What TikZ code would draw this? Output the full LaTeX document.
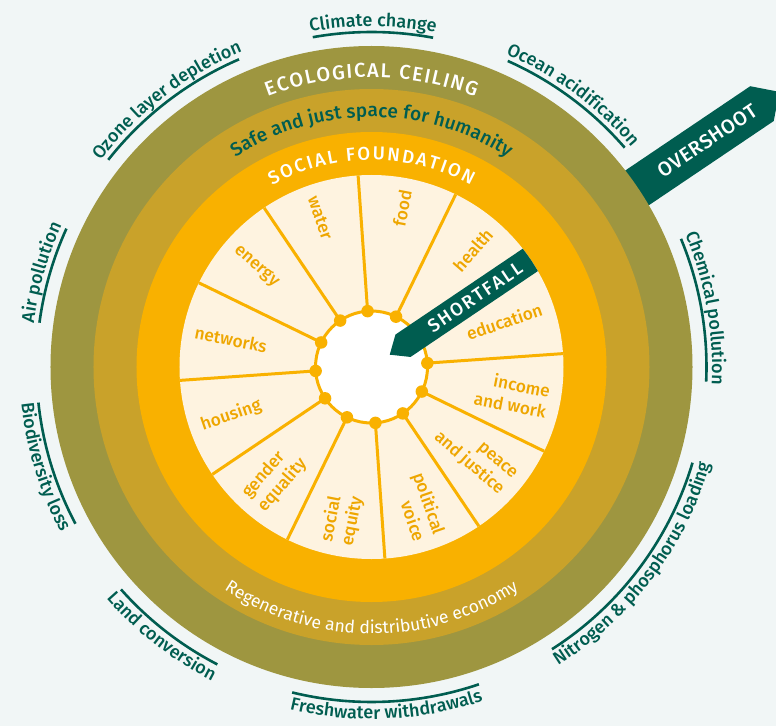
\documentclass[tikz,border=0pt]{standalone}
\usepackage{fontspec}
\setmainfont{Fira Sans}
\newfontfamily\fmed{Fira Sans Medium}
\usetikzlibrary{decorations.text}
\definecolor{bg}{HTML}{F1F6F6}
\definecolor{olive}{HTML}{9E9640}
\definecolor{mustard}{HTML}{C9A22A}
\definecolor{orng}{HTML}{F9B100}
\definecolor{cream}{HTML}{FEF3E0}
\definecolor{dgreen}{HTML}{005D50}
\definecolor{lbl}{HTML}{EEA600}
\newcommand\dnCapsA{\fmed\fontsize{18.5}{18.5}\selectfont}
\newcommand\dnCapsB{\fmed\fontsize{20}{20}\selectfont}
\newcommand\dnOut{\fmed\fontsize{18}{18}\selectfont}
\newcommand\dnSafe{\fmed\fontsize{19}{19}\selectfont}
\newcommand\dnReg{\fontsize{17.5}{17.5}\selectfont}
\begin{document}
\begin{tikzpicture}[x=1pt,y=1pt,
  wl/.style={font=\fmed\fontsize{17.3}{21}\selectfont, text=lbl, inner sep=0pt},
  wlL/.style={wl, anchor=west, align=left},
  wlR/.style={wl, anchor=east, align=right},
  spoke/.style={draw=orng, line width=3pt},
  hubdot/.style={circle, fill=orng, minimum size=12.5pt, inner sep=0pt},
  bline/.style={draw=dgreen, line width=2.6pt},
  outtxt/.style={decorate, decoration={text along path, text color=dgreen, text align=center, text={|\dnOut|#1}}},
  fittxt/.style 2 args={decorate, decoration={text along path, text color=#1, text align=fit to path, text={#2}}},
]
\fill[bg] (-371.5,-359) rectangle (404.5,367);
\useasboundingbox (-371.5,-359) rectangle (404.5,367);
% overshoot band
\fill[dgreen, rotate=34] (250,21) -- (471,21) -- (492,0) -- (471,-21) -- (250,-21) -- cycle;
% rings
\fill[olive] (0,0) circle[radius=321pt];
\fill[mustard] (0,0) circle[radius=278pt];
\fill[orng] (0,0) circle[radius=235pt];
\fill[cream] (0,0) circle[radius=192pt];
\draw[orng, line width=3pt, fill=white] (0,0) circle[radius=56pt];
\foreach \a in {4,34,...,334}{
  \node[hubdot] (d\a) at (\a:56pt) {};
  \coordinate (r\a) at (\a:192pt);
  \draw[spoke] (d\a.center) -- (r\a);
}
% shortfall band
\begin{scope}
\clip (0,0) circle[radius=192pt];
\fill[dgreen, rotate=34] (22,0) -- (38,13.5) -- (230,13.5) -- (230,-13.5) -- (38,-13.5) -- cycle;
\end{scope}
\path[rotate=34, fittxt={white}{|\dnCapsA|SHORTFALL}] (70,-6.3) -- (180,-6.3);
\path[rotate=34, fittxt={white}{|\dnCapsB|OVERSHOOT}] (348,-7) -- (463,-7);
% ring texts
\path[fittxt={white}{|\dnCapsB|ECOLOGICAL CEILING}] (111:289.5pt) arc[start angle=111, end angle=69, radius=289.5pt];
\path[fittxt={dgreen}{|\dnSafe|Safe and just space for humanity}] (123:250pt) arc[start angle=123, end angle=57, radius=250pt];
\path[fittxt={white}{|\dnCapsA|SOCIAL FOUNDATION}] (118.7:207pt) arc[start angle=118.7, end angle=61.3, radius=207pt];
\path[fittxt={white}{|\dnReg|Regenerative and distributive economy}] (236.5:267pt) arc[start angle=236.5, end angle=303.5, radius=267pt];
% wedge labels
\node[wlR, rotate=19] (l1) at (19:180pt) {education};
\node[wlR, rotate=49] (l2) at (49:180pt) {health};
\node[wlR, rotate=79] (l3) at (79:180pt) {food};
\node[wlL, rotate=-71] (l4) at (109:180pt) {water};
\node[wlL, rotate=-41] (l5) at (139:180pt) {energy};
\node[wlL, rotate=-11] (l6) at (169:180pt) {networks};
\node[wlL, rotate=19] (l7) at (199:180pt) {housing};
\node[wlL, rotate=49] (l8) at (229:180pt) {gender\\equality};
\node[wlL, rotate=79] (l9) at (259:180pt) {social\\equity};
\node[wlR, rotate=-71] (l10) at (289:180pt) {political\\voice};
\node[wlR, rotate=-41] (l11) at (319:180pt) {peace\\and justice};
\node[wlR, rotate=-11] (l12) at (349:180pt) {income\\and work};
% outer boundary lines
\foreach \s/\e in {79.4/100.1, 113.3/141.8, 40.9/66, -2.5/22.5, -57.4/-16.6, 256.3/288.7, 221.6/242.6, 186.1/207.9, 155.6/172.4}
  \draw[bline] (\s:335pt) arc[start angle=\s, end angle=\e, radius=335pt];
% outer labels (clockwise, tops outward)
\path[outtxt={Climate change}] (149.75:340.5pt) arc[start angle=149.75, end angle=29.75, radius=340.5pt];
\path[outtxt={Ozone layer depletion}] (187.5:340.5pt) arc[start angle=187.5, end angle=67.5, radius=340.5pt];
\path[outtxt={Ocean acidification}] (113.5:340.5pt) arc[start angle=113.5, end angle=-6.5, radius=340.5pt];
\path[outtxt={Chemical pollution}] (70:340.5pt) arc[start angle=70, end angle=-50, radius=340.5pt];
\path[outtxt={Air pollution}] (224:340.5pt) arc[start angle=224, end angle=104, radius=340.5pt];
% outer labels (counterclockwise, tops inward)
\path[outtxt={Nitrogen {\&} phosphorus loading}] (-97:352pt) arc[start angle=-97, end angle=23, radius=352pt];
\path[outtxt={Freshwater withdrawals}] (212.5:352pt) arc[start angle=212.5, end angle=332.5, radius=352pt];
\path[outtxt={Land conversion}] (172.1:352pt) arc[start angle=172.1, end angle=292.1, radius=352pt];
\path[outtxt={Biodiversity loss}] (137:352pt) arc[start angle=137, end angle=257, radius=352pt];
\end{tikzpicture}
\end{document}
